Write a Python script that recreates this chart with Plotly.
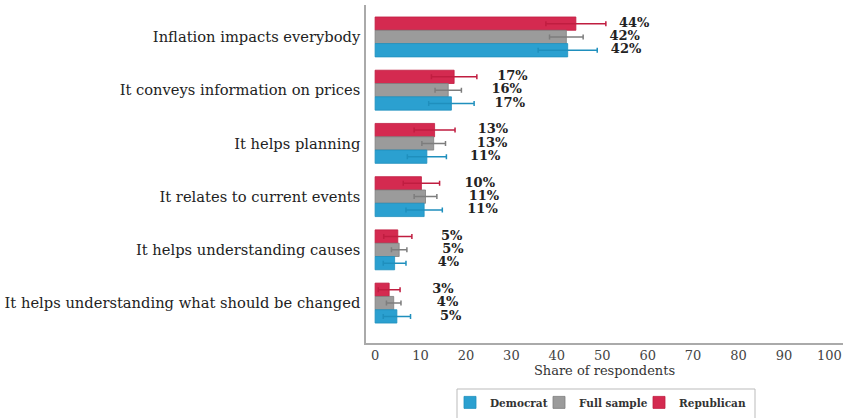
import plotly.graph_objects as go

# Reasons respondents give for why inflation matters, by party
reasons = [
    "Inflation impacts everybody",
    "It conveys information on prices",
    "It helps planning",
    "It relates to current events",
    "It helps understanding causes",
    "It helps understanding what should be changed",
]

republican = [44.2, 17.4, 13.1, 10.2, 5.0, 3.1]
full_sample = [42.1, 16.1, 12.9, 11.1, 5.3, 4.1]
democrat = [42.4, 16.8, 11.4, 10.8, 4.3, 4.8]

republican_err = [6.6, 5.0, 4.5, 4.0, 3.1, 2.4]
full_sample_err = [3.7, 2.9, 2.6, 2.5, 1.7, 1.6]
democrat_err = [6.5, 5.0, 4.3, 4.0, 2.5, 3.0]

# name, values, errors, fill, edge, legend id, legend x (container fraction)
series = [
    ("Republican", republican, republican_err, "#d42a50", "#c01d40", "legend3", 639 / 849),
    ("Full sample", full_sample, full_sample_err, "#9b9b9b", "#7d7d7d", "legend2", 539 / 849),
    ("Democrat", democrat, democrat_err, "#2ba0d0", "#1f8fbd", "legend", 450 / 849),
]

SERIF = "DejaVu Serif"
label_shift = 9.5  # gap between a bar's end and its percentage label, in axis units
offsets = [-0.25, 0.0, 0.25]

fig = go.Figure()
idx = list(range(len(reasons)))

legend_layout = {}
for (name, vals, errs, color, ecolor, leg, legx), off in zip(series, offsets):
    fig.add_trace(go.Bar(
        name=name,
        x=vals,
        y=idx,
        orientation="h",
        marker=dict(color=color, line=dict(color=ecolor, width=0.8)),
        error_x=dict(type="data", array=errs, color=ecolor, thickness=1.5, width=2.5),
        legend=leg,
    ))
    fig.add_trace(go.Scatter(
        x=[v + label_shift for v in vals],
        y=[i + off for i in idx],
        mode="text",
        text=[f"<b>{round(v)}%</b>" for v in vals],
        textposition="middle right",
        textfont=dict(family=SERIF, size=13, color="#222222"),
        showlegend=False,
        hoverinfo="skip",
    ))
    legend_layout[leg] = dict(
        orientation="h",
        xref="container",
        x=legx,
        xanchor="left",
        yref="container",
        y=0.072,
        yanchor="top",
        borderwidth=0,
        bgcolor="rgba(0,0,0,0)",
        font=dict(family=SERIF, size=10.5, color="#333333", weight="bold"),
        itemwidth=30,
    )

# frame drawn around the three legend entries
fig.add_shape(
    type="rect", xref="paper", yref="paper",
    x0=(457 - 366) / 477, x1=(755 - 366) / 477,
    y0=(343 - 389) / 338, y1=(343 - 430) / 338,
    line=dict(color="#bbbbbb", width=1), fillcolor="rgba(0,0,0,0)",
)

fig.update_layout(
    width=849,
    height=418,
    margin=dict(l=366, r=6, t=5, b=75, autoexpand=False),
    paper_bgcolor="white",
    plot_bgcolor="white",
    barmode="group",
    bargap=0.25,
    bargroupgap=0,
    font=dict(family=SERIF, color="#333333"),
    xaxis=dict(
        range=[-2, 103],
        tickvals=list(range(0, 101, 10)),
        showgrid=False,
        zeroline=False,
        showline=True,
        linecolor="#aaaaaa",
        linewidth=1.5,
        ticks="",
        automargin=False,
        tickfont=dict(family=SERIF, size=13, color="#444444"),
        title=dict(text="Share of respondents", font=dict(family=SERIF, size=13, color="#333333"), standoff=0),
    ),
    yaxis=dict(
        range=[5.75, -0.6],
        tickvals=idx,
        ticktext=reasons,
        showgrid=False,
        zeroline=False,
        showline=True,
        linecolor="#aaaaaa",
        linewidth=1.5,
        ticks="",
        automargin=False,
        tickfont=dict(family=SERIF, size=14.7, color="#222222"),
        ticklabelstandoff=1,
    ),
    showlegend=True,
    **legend_layout,
)

fig.write_html("out.html")
